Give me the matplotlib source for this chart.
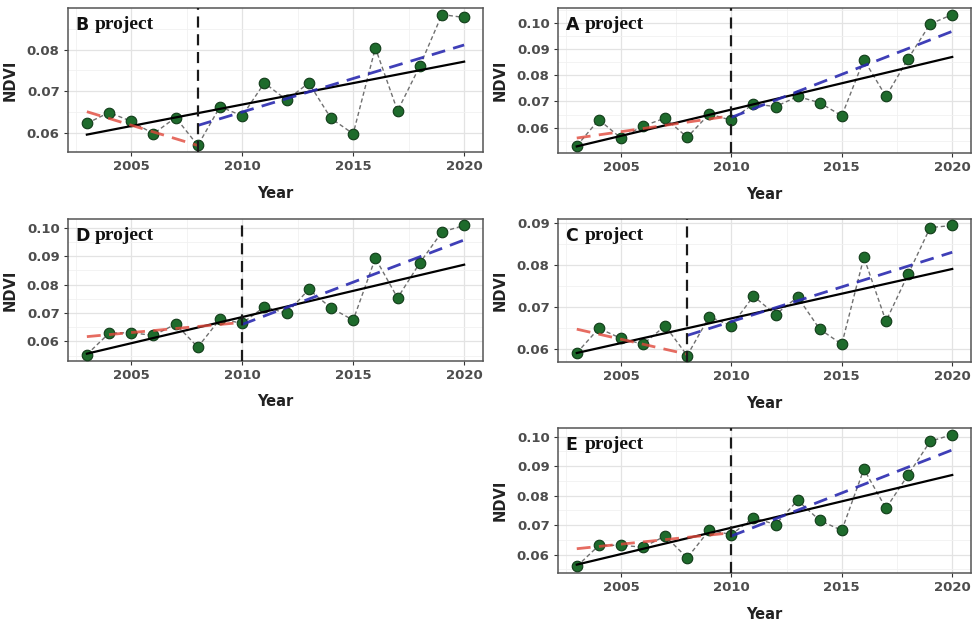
import numpy as np
import matplotlib
matplotlib.use("Agg")
import matplotlib.pyplot as plt
from matplotlib.ticker import MultipleLocator, FormatStrFormatter

W, H = 973, 623

years = list(range(2003, 2021))

# NDVI per project
ndvi_b = [0.0623, 0.0649, 0.0628, 0.0598, 0.0637, 0.0570, 0.0663, 0.0641, 0.0720,
          0.0679, 0.0720, 0.0635, 0.0598, 0.0804, 0.0653, 0.0760, 0.0884, 0.0877]
ndvi_a = [0.0530, 0.0630, 0.0560, 0.0606, 0.0636, 0.0563, 0.0652, 0.0628, 0.0691,
          0.0680, 0.0719, 0.0695, 0.0645, 0.0860, 0.0719, 0.0863, 0.0996, 0.1032]
ndvi_d = [0.0554, 0.0629, 0.0631, 0.0621, 0.0661, 0.0580, 0.0679, 0.0664, 0.0722,
          0.0699, 0.0783, 0.0718, 0.0675, 0.0893, 0.0753, 0.0876, 0.0985, 0.1008]
ndvi_c = [0.0590, 0.0649, 0.0625, 0.0611, 0.0655, 0.0584, 0.0677, 0.0655, 0.0726,
          0.0682, 0.0724, 0.0647, 0.0611, 0.0819, 0.0666, 0.0778, 0.0890, 0.0895]
ndvi_e = [0.0560, 0.0631, 0.0632, 0.0625, 0.0663, 0.0589, 0.0683, 0.0668, 0.0725,
          0.0702, 0.0784, 0.0716, 0.0682, 0.0890, 0.0757, 0.0870, 0.0984, 0.1007]

# break year per project
break_b, break_a, break_d, break_c, break_e = 2008, 2010, 2010, 2008, 2010

# trend values at start / end: whole period, before break, after break
trend_all_b, trend_pre_b, trend_post_b = [0.0596, 0.0771], [0.0651, 0.0570], [0.0618, 0.0811]
trend_all_a, trend_pre_a, trend_post_a = [0.0528, 0.0870], [0.0560, 0.0645], [0.0639, 0.0968]
trend_all_d, trend_pre_d, trend_post_d = [0.0557, 0.0870], [0.0617, 0.0667], [0.0660, 0.0957]
trend_all_c, trend_pre_c, trend_post_c = [0.0590, 0.0791], [0.0647, 0.0587], [0.0632, 0.0831]
trend_all_e, trend_pre_e, trend_post_e = [0.0566, 0.0870], [0.0620, 0.0674], [0.0663, 0.0955]

GREY = "#4d4d4d"


def rect(l, t, r, b):
    return [l / W, 1 - b / H, (r - l) / W, (b - t) / H]


def panel(fig, box, letter, ndvi, brk, t_all, t_pre, t_post):
    ax = fig.add_axes(rect(*box))
    x0, x1 = years[0], years[-1]

    ax.plot(years, ndvi, linestyle=(0, (3, 2)), color="#707070", lw=1.0, zorder=2)
    ax.scatter(years, ndvi, s=58, color="#1e6b2c", edgecolor="#103b18", lw=0.8, zorder=3)

    ax.plot([x0, x1], t_all, color="black", lw=1.6, zorder=4)
    ax.plot([x0, brk], t_pre, color="#e0473a", lw=2.0, ls=(0, (5, 3)), alpha=0.8, zorder=4)
    ax.plot([brk, x1], t_post, color="#2a2ab0", lw=2.0, ls=(0, (5, 3)), alpha=0.9, zorder=4)
    ax.axvline(brk, color="#1a1a1a", lw=1.6, ls=(0, (5, 3)), zorder=5)

    # ggplot-style 5% expansion
    vals = list(ndvi) + list(t_all) + list(t_pre) + list(t_post)
    lo, hi = min(vals), max(vals)
    pad = (hi - lo) * 0.05
    ax.set_ylim(lo - pad, hi + pad)
    ax.set_xlim(x0 - 0.85, x1 + 0.85)

    ax.xaxis.set_major_locator(MultipleLocator(5))
    ax.xaxis.set_minor_locator(MultipleLocator(2.5))
    ax.yaxis.set_major_locator(MultipleLocator(0.01))
    ax.yaxis.set_minor_locator(MultipleLocator(0.005))
    ax.yaxis.set_major_formatter(FormatStrFormatter("%.2f"))
    ax.grid(which="major", color="#e3e3e3", lw=0.9, zorder=0)
    ax.grid(which="minor", color="#f1f1f1", lw=0.6, zorder=0)
    ax.set_axisbelow(True)

    ax.tick_params(which="major", length=3, width=0.8, color="#333333",
                   labelsize=9.5, labelcolor=GREY, pad=3)
    ax.tick_params(which="minor", length=0)
    for lab in ax.get_xticklabels() + ax.get_yticklabels():
        lab.set_fontweight("bold")
    for sp in ax.spines.values():
        sp.set_color("#555555")
        sp.set_linewidth(1.1)

    ax.set_xlabel("Year", fontsize=10.5, fontweight="bold", color="#222222")
    ax.set_ylabel("NDVI", fontsize=10.5, fontweight="bold", color="#222222")
    ax.xaxis.set_label_coords(0.5, -0.235)
    ax.yaxis.set_label_coords(-0.122, 0.5)

    ax.text(0.018, 0.88, letter, transform=ax.transAxes, fontsize=12.5,
            fontweight="bold", color="#111111", va="center", ha="left")
    ax.annotate("project", xy=(0.018, 0.88), xycoords="axes fraction",
                xytext=(14, 0.5), textcoords="offset points", fontsize=14,
                family="Liberation Serif", fontweight="bold", color="#111111",
                va="center", ha="left")
    return ax


fig = plt.figure(figsize=(W / 100, H / 100), dpi=100)

panel(fig, (68, 8, 483, 152), "B", ndvi_b, break_b, trend_all_b, trend_pre_b, trend_post_b)
panel(fig, (558, 8, 971, 153), "A", ndvi_a, break_a, trend_all_a, trend_pre_a, trend_post_a)
panel(fig, (68, 219, 483, 361), "D", ndvi_d, break_d, trend_all_d, trend_pre_d, trend_post_d)
panel(fig, (558, 219, 971, 362), "C", ndvi_c, break_c, trend_all_c, trend_pre_c, trend_post_c)
panel(fig, (558, 428, 971, 573), "E", ndvi_e, break_e, trend_all_e, trend_pre_e, trend_post_e)

fig.savefig("out.png", dpi=100)
